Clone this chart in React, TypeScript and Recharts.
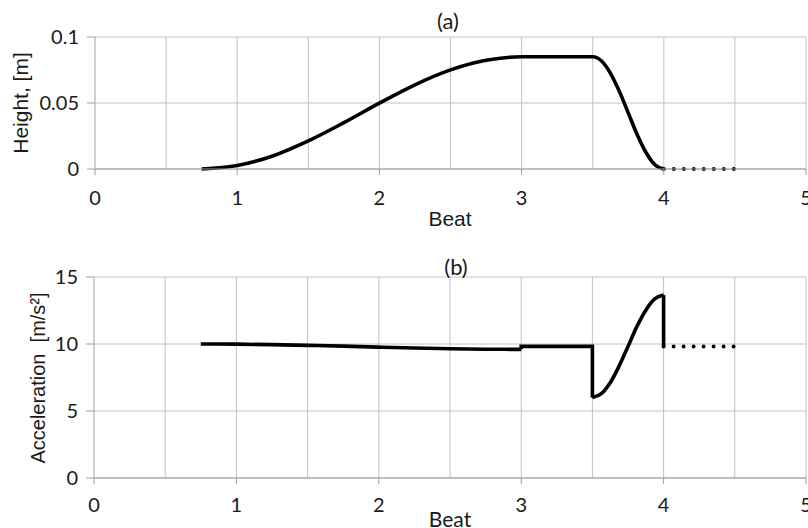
import { CartesianGrid, Line, LineChart, XAxis, YAxis } from "recharts";

// x axis: grid every half beat, labels on whole beats
const beatTicks = [0, 0.5, 1, 1.5, 2, 2.5, 3, 3.5, 4, 4.5, 5];
const heightTicks = [0, 0.05, 0.1];
const accTicks = [0, 5, 10, 15];

// (a) foot height
const heightBeat = [0.75, 1, 1.25, 1.5, 1.75, 2, 2.25, 2.5, 2.75, 3, 3.5, 3.5625, 3.625, 3.6875, 3.75, 3.8125, 3.875, 3.9375, 4];
const heightValue = [0, 0.0026, 0.0099, 0.0213, 0.0351, 0.0499, 0.0638, 0.0751, 0.0824, 0.085, 0.085, 0.0818, 0.0725, 0.0588, 0.0425, 0.0262, 0.0125, 0.0032, 0];
const heightRestBeat = [4, 4.5];
const heightRestValue = [0, 0];

// (b) acceleration
const accSlowBeat = [0.75, 1, 1.25, 1.5, 1.75, 2, 2.25, 2.5, 2.75, 3];
const accSlowValue = [10.0, 9.99, 9.95, 9.9, 9.84, 9.77, 9.7, 9.65, 9.61, 9.6];
const accStepBeat = [3, 3, 3.5, 3.5];
const accStepValue = [9.6, 9.82, 9.82, 6.0];
const accSwingBeat = [3.5, 3.5625, 3.625, 3.6875, 3.75, 3.8125, 3.875, 3.9375, 4];
const accSwingValue = [6.0, 6.29, 7.11, 8.35, 9.82, 11.3, 12.52, 13.36, 13.65];
const accDropBeat = [4, 4];
const accDropValue = [13.65, 9.82];
const accRestBeat = [4, 4.5];
const accRestValue = [9.82, 9.82];

const pts = (xs: number[], ys: number[]) => xs.map((x, i) => ({ x, y: ys[i] }));

const gridColor = "#c2c2c2";
const axisColor = "#9e9e9e";
const numFont = "Lato, 'Open Sans', sans-serif";
const arial = "'Liberation Sans', Arial, sans-serif";
const textColor = "#1a1a1a";
const yTick = { fontFamily: numFont, fontSize: 20, fill: textColor };

function BeatTick(props: any) {
  const { x, y, payload, labelDy } = props;
  const v = payload.value;
  if (!Number.isInteger(v)) return null;
  return (
    <g>
      <line x1={x} x2={x} y1={y} y2={y + 6} stroke={axisColor} />
      <text x={x} y={y + labelDy} textAnchor="middle" fontFamily={numFont} fontSize={20} fill={textColor}>
        {v}
      </text>
    </g>
  );
}

const lineProps = {
  dataKey: "y",
  stroke: "#000",
  strokeWidth: 3.6,
  dot: false,
  activeDot: false,
  isAnimationActive: false
};

const dotted = {
  ...lineProps,
  type: "linear" as const,
  strokeWidth: 4,
  strokeDasharray: "0 10",
  strokeLinecap: "round" as const
};

function Label({ x, y, text, font, size, rotate }: any) {
  return (
    <div
      style={{
        position: "absolute",
        left: x,
        top: y,
        transform: `translate(-50%, -50%)${rotate ? " rotate(-90deg)" : ""}`,
        whiteSpace: "pre",
        lineHeight: 1,
        fontFamily: font,
        fontSize: size,
        color: textColor
      }}
    >
      {text}
    </div>
  );
}

export default function App() {
  return (
    <div style={{ position: "relative", width: 808, height: 528, background: "#fff", overflow: "hidden" }}>
      <style>{"body{margin:0}"}</style>

      <LineChart width={808} height={255} margin={{ top: 37, right: 2, left: 0, bottom: 0 }}>
        <CartesianGrid stroke={gridColor} />
        <XAxis
          type="number"
          dataKey="x"
          domain={[0, 5]}
          ticks={beatTicks}
          interval={0}
          height={86}
          tickSize={0}
          tickMargin={0}
          tickLine={false}
          axisLine={{ stroke: axisColor }}
          tick={<BeatTick labelDy={36} />}
        />
        <YAxis
          type="number"
          domain={[0, 0.1]}
          ticks={heightTicks}
          width={95}
          tickSize={8}
          tickMargin={8}
          tickLine={{ stroke: axisColor }}
          axisLine={{ stroke: gridColor }}
          tick={yTick}
        />
        <Line {...lineProps} type="monotone" data={pts(heightBeat, heightValue)} />
        <Line {...dotted} data={pts(heightRestBeat, heightRestValue)} />
      </LineChart>

      <LineChart width={808} height={273} margin={{ top: 22, right: 2, left: 0, bottom: 0 }}>
        <CartesianGrid stroke={gridColor} />
        <XAxis
          type="number"
          dataKey="x"
          domain={[0, 5]}
          ticks={beatTicks}
          interval={0}
          height={50}
          tickSize={0}
          tickMargin={0}
          tickLine={false}
          axisLine={{ stroke: axisColor }}
          tick={<BeatTick labelDy={34} />}
        />
        <YAxis
          type="number"
          domain={[0, 15]}
          ticks={accTicks}
          width={94}
          tickSize={8}
          tickMargin={8}
          tickLine={{ stroke: axisColor }}
          axisLine={{ stroke: gridColor }}
          tick={yTick}
        />
        <Line {...lineProps} type="monotone" data={pts(accSlowBeat, accSlowValue)} />
        <Line {...lineProps} type="linear" data={pts(accStepBeat, accStepValue)} />
        <Line {...lineProps} type="monotone" data={pts(accSwingBeat, accSwingValue)} />
        <Line {...lineProps} type="linear" data={pts(accDropBeat, accDropValue)} />
        <Line {...dotted} data={pts(accRestBeat, accRestValue)} />
      </LineChart>

      <Label x={448} y={21} text="(a)" font={numFont} size={22} />
      <Label x={450} y={218} text="Beat" font={arial} size={21} />
      <Label x={20} y={103} text="Height, [m]" font={arial} size={21} rotate />
      <Label x={456} y={267} text="(b)" font={numFont} size={22} />
      <Label x={38} y={378} text={"Acceleration  [m/s²]"} font={arial} size={20} rotate />
      <Label x={450} y={518} text="Beat" font={numFont} size={21} />
    </div>
  );
}
